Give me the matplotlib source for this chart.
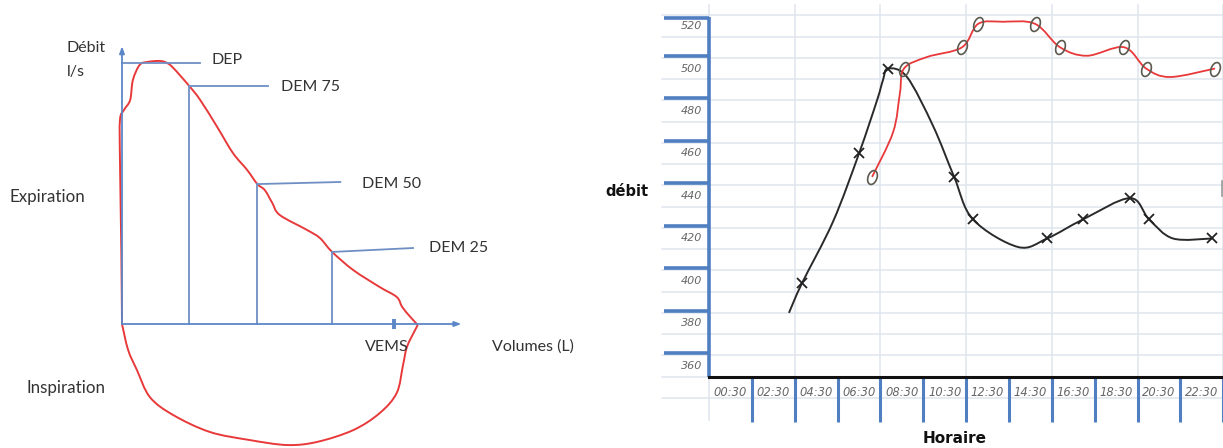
import numpy as np
import matplotlib
matplotlib.use("Agg")
import matplotlib.pyplot as plt
from matplotlib.path import Path
from matplotlib.patches import PathPatch

# ---------------- data : left panel (flow-volume loop, schematic) ----------------
# volume in L, flow in l/s
exp_vol = [0.00, -0.01, -0.03, -0.03, 0.03, 0.12, 0.16, 0.26, 0.37, 0.53, 0.63, 0.74,
           0.99, 1.15, 1.40, 1.63, 1.84, 1.99, 2.10, 2.21, 2.32, 2.72, 2.91, 3.09,
           3.40, 3.79, 4.04, 4.12, 4.24, 4.35]
exp_flow = [0.00, 2.82, 6.26, 7.79, 8.17, 8.55, 9.31, 9.89, 10.00, 10.04, 10.00, 9.81,
            9.08, 8.55, 7.52, 6.53, 5.88, 5.34, 5.11, 4.62, 4.16, 3.59, 3.28, 2.75,
            2.06, 1.41, 1.03, 0.65, 0.27, -0.04]
insp_vol = [4.35, 4.31, 4.19, 4.13, 4.04, 3.79, 3.40, 2.87, 2.43, 1.88, 1.29, 0.75,
            0.41, 0.22, 0.09, 0.00]
insp_flow = [-0.04, -0.23, -0.88, -1.60, -2.63, -3.40, -4.05, -4.50, -4.62, -4.43,
             -4.12, -3.47, -2.79, -1.76, -0.99, 0.00]

point_names = ["DEP", "DEM 75", "DEM 50", "DEM 25"]
point_vol = [0.00, 0.99, 1.99, 3.09]
point_flow = [9.96, 9.08, 5.34, 2.75]
vems_vol = 4.0

# ---------------- data : right panel (débit vs horaire) ----------------
time_labels = ["00:30", "02:30", "04:30", "06:30", "08:30", "10:30",
               "12:30", "14:30", "16:30", "18:30", "20:30", "22:30"]
y_tick_values = [360, 380, 400, 420, 440, 460, 480, 500, 520]

# black series (x markers), time in hours
black_t = [3.23, 3.84, 5.29, 6.50, 7.34, 7.62, 7.85, 8.74, 9.96, 10.94, 11.82,
           13.92, 15.28, 16.96, 19.15, 20.04, 21.16, 22.98]
black_v = [385, 399, 428, 460, 485, 494.6, 500, 496, 472.9, 449, 429,
           416, 420, 429, 439, 429, 420, 420]
black_marked = [0, 1, 0, 1, 0, 0, 1, 0, 0, 1, 1, 0, 1, 1, 1, 1, 0, 1]

# red series (o markers)
red_t = [7.11, 8.09, 8.41, 8.60, 9.67, 11.31, 12.06, 13.22, 14.72, 15.88, 17.14,
         18.87, 19.90, 21.02, 23.12]
red_v = [449, 470, 488.5, 500, 505.4, 510, 521, 522, 521, 510, 506, 510, 500, 496, 500]
red_marked = [1, 0, 0, 1, 0, 1, 1, 0, 1, 1, 0, 1, 1, 0, 1]


def smooth_path(xs, ys, k=6.0):
    P = np.column_stack([xs, ys]).astype(float)
    E = np.vstack([P[0], P, P[-1]])
    verts = [P[0]]
    codes = [Path.MOVETO]
    for i in range(len(P) - 1):
        p0, p1, p2, p3 = E[i], E[i + 1], E[i + 2], E[i + 3]
        verts += [p1 + (p2 - p0) / k, p2 - (p3 - p1) / k, p2]
        codes += [Path.CURVE4] * 3
    return Path(verts, codes)


fig = plt.figure(figsize=(12.23, 4.48), dpi=100)
fig.patch.set_facecolor("white")

# ================= LEFT PANEL =================
ax1 = fig.add_axes([0, 0, 600 / 1223, 1])
ax1.set_xlim(-1.794, 7.029)
ax1.set_ylim(-4.733, 12.366)
ax1.axis("off")

axis_blue = "#5b87c8"
line_blue = "#6f8fc4"
red = "#e8393a"
txt = "#333333"
lfont = "Lato"

ax1.annotate("", xy=(0, 10.6), xytext=(0, 0),
             arrowprops=dict(arrowstyle="-|>,head_length=0.4,head_width=0.15",
                             color=axis_blue, lw=1.3, shrinkA=0, shrinkB=0))
ax1.annotate("", xy=(4.99, 0), xytext=(0, 0),
             arrowprops=dict(arrowstyle="-|>,head_length=0.4,head_width=0.15",
                             color=axis_blue, lw=1.3, shrinkA=0, shrinkB=0))

line_ends = [1.15, 2.15, 3.21, 4.28]
line_end_dy = [0.0, 0.0, 0.08, 0.15]
text_x = [1.32, 2.34, 3.53, 4.51]
text_dy = [0.12, -0.05, 0.0, 0.15]
for name, v, f, xe, dy, tx, tdy in zip(point_names, point_vol, point_flow,
                                      line_ends, line_end_dy, text_x, text_dy):
    if v > 0:
        ax1.plot([v, v], [0, f], color=line_blue, lw=1.3)
    ax1.plot([v, xe], [f, f + dy], color=line_blue, lw=1.3)
    ax1.text(tx, f + tdy, name, fontsize=11.5, color=txt, family=lfont,
             va="center", ha="left")

ax1.plot([vems_vol, vems_vol], [-0.2, 0.2], color=axis_blue, lw=2.8, solid_capstyle="butt")
ax1.text(vems_vol - 0.1, -0.86, "VEMS", fontsize=11.5, color=txt, family=lfont,
         ha="center", va="center")
ax1.text(5.44, -0.86, "Volumes (L)", fontsize=11.5, color=txt, family=lfont,
         ha="left", va="center")
ax1.text(-0.81, 10.53, "Débit", fontsize=11.5, color=txt, family=lfont,
         ha="left", va="center")
ax1.text(-0.81, 9.62, "l/s", fontsize=11.5, color=txt, family=lfont,
         ha="left", va="center")
ax1.text(-1.65, 4.85, "Expiration", fontsize=12.2, color=txt, family=lfont,
         ha="left", va="center")
ax1.text(-1.40, -2.44, "Inspiration", fontsize=12.2, color=txt, family=lfont,
         ha="left", va="center")

for xs, ys in [(exp_vol, exp_flow), (insp_vol, insp_flow)]:
    ax1.add_patch(PathPatch(smooth_path(xs, ys), facecolor="none",
                            edgecolor=red, lw=1.4, joinstyle="round"))

# ================= RIGHT PANEL =================
ax2 = fig.add_axes([600 / 1223, 0, 623 / 1223, 1])
ax2.set_xlim(-5.59, 23.49)
ax2.set_ylim(321.4, 532.24)
ax2.axis("off")

grid_c = "#dfe4ee"
blue = "#4f7fc0"
n = len(time_labels)
t_edges = [2 * k - 0.5 for k in range(n + 1)]

for v in range(345, 530, 10):
    ax2.plot([-2.69, 23.6], [v, v], color=grid_c, lw=1.1, zorder=1, clip_on=False)
for k in range(0, n + 1, 2):
    ax2.plot([t_edges[k], t_edges[k]], [334.6, 530.0], color=grid_c, lw=1.1, zorder=1)

ax2.plot([-0.5, -0.5], [355, 524.2], color=blue, lw=2.6, zorder=3, solid_capstyle="butt")
for v in list(range(366, 507, 20)) + [524]:
    ax2.plot([-2.6, -0.5], [v, v], color=blue, lw=2.6, zorder=3, solid_capstyle="butt")
for v in y_tick_values:
    ax2.text(-0.83, v, str(v), fontsize=8, style="italic", color="#666666",
             ha="right", va="center", family="DejaVu Sans")

ax2.plot([-0.5, 23.5], [355, 355], color="#111111", lw=2.2, zorder=4)
for k in range(1, n + 1):
    ax2.plot([t_edges[k], t_edges[k]], [333.6, 355], color=blue, lw=2.2, zorder=3,
             solid_capstyle="butt")
for i, lab in enumerate(time_labels):
    ax2.text(2 * i + 0.5, 347.3, lab, fontsize=8.3, style="italic", color="#666666",
             ha="center", va="center", family="DejaVu Sans")

ax2.text(10.98, 326.1, "Horaire", fontsize=11, fontweight="bold", color="#111111",
         ha="center", va="center", family="DejaVu Sans")
ax2.text(-5.35, 441.9, "débit", fontsize=10.5, fontweight="bold", color="#111111",
         ha="left", va="center", family="DejaVu Sans")
ax2.plot([23.42, 23.42], [440, 447], color="#999999", lw=1.2)

ax2.add_patch(PathPatch(smooth_path(black_t, black_v), facecolor="none",
                        edgecolor="#2a2a2a", lw=1.4, zorder=5))
ax2.add_patch(PathPatch(smooth_path(red_t, red_v), facecolor="none",
                        edgecolor=red, lw=1.3, zorder=5))

bt = [t for t, m in zip(black_t, black_marked) if m]
bv = [v for v, m in zip(black_v, black_marked) if m]
ax2.plot(bt, bv, linestyle="none", marker="x", markersize=6.5, mew=1.3,
         color="#222222", zorder=6)

theta = np.linspace(0, 2 * np.pi, 40)
ell = np.column_stack([0.62 * np.cos(theta), np.sin(theta)])
rot = np.deg2rad(-20)
R = np.array([[np.cos(rot), -np.sin(rot)], [np.sin(rot), np.cos(rot)]])
o_marker = Path(ell @ R.T)
rt = [t for t, m in zip(red_t, red_marked) if m]
rv = [v for v, m in zip(red_v, red_marked) if m]
ax2.plot(rt, rv, linestyle="none", marker=o_marker, markersize=10, mew=1.2,
         mfc="none", mec="#5a5a50", zorder=6)

fig.savefig("out.png", dpi=100)
